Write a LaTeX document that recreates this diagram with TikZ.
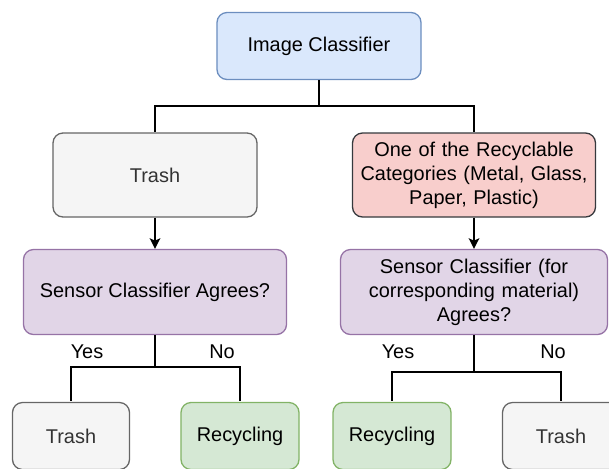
\documentclass[tikz,border=0pt]{standalone}
\usepackage{fontspec}
\setmainfont{Liberation Sans}
\usepackage{tikz}
\usetikzlibrary{arrows.meta,positioning}
\usepackage{xcolor}

\definecolor{blueFill}{HTML}{DAE8FC}
\definecolor{blueLine}{HTML}{6C8EBF}
\definecolor{greyFill}{HTML}{F5F5F5}
\definecolor{greyLine}{HTML}{666666}
\definecolor{greyText}{HTML}{333333}
\definecolor{redFill}{HTML}{F8CECC}
\definecolor{redLine}{HTML}{36393D}
\definecolor{purpleFill}{HTML}{E1D5E7}
\definecolor{purpleLine}{HTML}{9673A6}
\definecolor{greenFill}{HTML}{D5E8D4}
\definecolor{greenLine}{HTML}{82B366}

\tikzset{
    box/.style={rectangle, rounded corners=0.3cm, line width=1.1pt,
        align=center, inner sep=2pt,
        font=\fontsize{17pt}{20.5pt}\selectfont},
    blueBox/.style={box, fill=blueFill, draw=blueLine},
    greyBox/.style={box, fill=greyFill, draw=greyLine, text=greyText},
    redBox/.style={box, fill=redFill, draw=redLine},
    purpleBox/.style={box, fill=purpleFill, draw=purpleLine},
    greenBox/.style={box, fill=greenFill, draw=greenLine},
    tree/.style={line width=2.4pt, black},
    flow/.style={line width=1.6pt, black, -{Stealth[length=9pt,width=9pt,inset=2pt]}},
    answer/.style={font=\fontsize{17pt}{20.5pt}\selectfont}
}

\begin{document}
\begin{tikzpicture}[x=0.03cm, y=-0.03cm]
    % 画布大小
    \useasboundingbox (0,0) rectangle (609,468);
    \clip (0,0) rectangle (609,468);

    % 顶部分类器
    \node[blueBox, minimum width=6.12cm, minimum height=2.01cm] (img) at (319,46) {Image Classifier};

    % 第二层
    \node[greyBox, minimum width=6.12cm, minimum height=2.52cm] (trashTop) at (155,175) {Trash};
    \node[redBox, minimum width=7.29cm, minimum height=2.52cm, text width=7cm] (recycTop) at (474,175)
        {One of the Recyclable\\Categories (Metal, Glass,\\Paper, Plastic)};

    % 传感器判断
    \node[purpleBox, minimum width=7.89cm, minimum height=2.55cm] (sensLeft) at (155,292)
        {Sensor Classifier Agrees?};
    \node[purpleBox, minimum width=8.01cm, minimum height=2.55cm, text width=7.6cm] (sensRight) at (474,292)
        {Sensor Classifier (for\\corresponding material)\\Agrees?};

    % 底层结果
    \node[greyBox, minimum width=3.51cm, minimum height=2.01cm] (trashA) at (71,436) {Trash};
    \node[greenBox, minimum width=3.54cm, minimum height=2.01cm] (recycA) at (240,436) {Recycling};
    \node[greenBox, minimum width=3.54cm, minimum height=2.01cm] (recycB) at (392,436) {Recycling};
    \node[greyBox, minimum width=3.51cm, minimum height=2.01cm] (trashB) at (561,436) {Trash};

    % 分叉点
    \coordinate (splitTop) at (319,106);
    \coordinate (splitLeft) at (155,367);
    \coordinate (splitRight) at (474,372);

    % 连线
    \draw[tree] (img.south) -- (splitTop);
    \draw[tree] (splitTop) -| (trashTop.north);
    \draw[tree] (splitTop) -| (recycTop.north);
    \draw[flow] (trashTop.south) -- (sensLeft.north);
    \draw[flow] (recycTop.south) -- (sensRight.north);

    \draw[tree] (sensLeft.south) -- (splitLeft);
    \draw[tree, shorten >=1pt] (splitLeft) -| (trashA.north);
    \draw[tree, shorten >=1pt] (splitLeft) -| (recycA.north);
    \draw[tree] (sensRight.south) -- (splitRight);
    \draw[tree, shorten >=1pt] (splitRight) -| (recycB.north);
    \draw[tree, shorten >=1pt] (splitRight) -| (trashB.north);

    % 是/否标签
    \node[answer] (yesLeft) at (87,352) {Yes};
    \node[answer] (noLeft) at (222,352) {No};
    \node[answer] (yesRight) at (398,352) {Yes};
    \node[answer] (noRight) at (553,352) {No};
\end{tikzpicture}
\end{document}
